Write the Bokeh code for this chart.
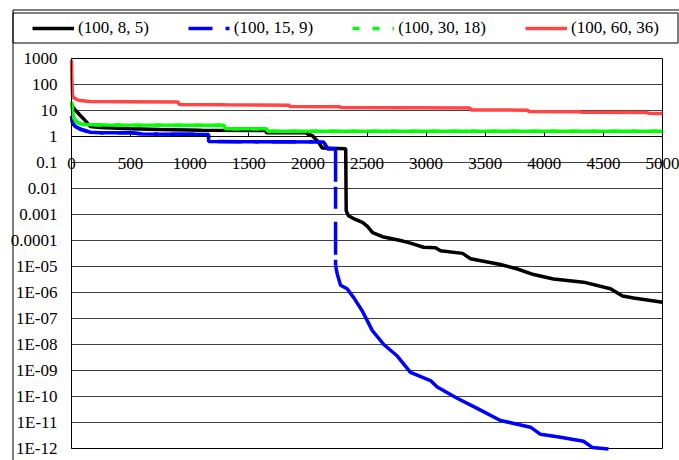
import numpy as np
from bokeh.plotting import figure
from bokeh.models import (FixedTicker, CustomJSTickFormatter, Legend, LegendItem,
                          BoxAnnotation, Range1d, Grid)
from bokeh.embed import file_html
from bokeh.resources import INLINE

# ---------------- data ----------------
series_labels = ["(100, 8, 5)", "(100, 15, 9)", "(100, 30, 18)", "(100, 60, 36)"]

black_x = [0, 10, 35, 75, 120, 160, 245, 500, 750, 1100, 1640, 1650, 1980, 2036, 2090,
           2121, 2320, 2324, 2343, 2386, 2462, 2504, 2547, 2631, 2783, 2868, 2978, 3080,
           3122, 3308, 3376, 3519, 3629, 3773, 3909, 4078, 4332, 4560, 4662, 4755, 5000]
black_y = [17, 14, 10, 6.4, 3.9, 2.4, 2.2, 2.0, 1.85, 1.75, 1.7, 1.4, 1.38, 1.09, 0.6,
           0.36, 0.34, 1.4e-3, 9e-4, 7e-4, 5e-4, 3.5e-4, 2e-4, 1.4e-4, 1e-4, 7.9e-5, 5.5e-5, 5.3e-5,
           4e-5, 3.2e-5, 2e-5, 1.5e-5, 1.2e-5, 8e-6, 4.9e-6, 3.3e-6, 2.5e-6, 1.4e-6, 7.3e-7, 6.1e-7, 4.2e-7]

blue_x = [0, 10, 30, 75, 160, 250, 500, 600, 1159, 1160, 2132, 2166, 2234, 2234, 2248, 2276,
          2332, 2386, 2459, 2544, 2642, 2756, 2868, 3037, 3094, 3263, 3432, 3629, 3883, 3968,
          4137, 4332, 4405, 4543]
blue_y = [6, 3.2, 2.5, 1.9, 1.46, 1.4, 1.38, 1.25, 1.2, 0.64, 0.62, 0.34, 0.34, 1.1e-5, 5.2e-6, 1.9e-6,
          1.4e-6, 6.5e-7, 2e-7, 3.5e-8, 1.0e-8, 3.6e-9, 8.5e-10, 4.1e-10, 2.3e-10, 8.6e-11, 3.5e-11,
          1.2e-11, 6.6e-12, 3.5e-12, 2.7e-12, 1.9e-12, 1.1e-12, 9.6e-13]

green_x = [0, 8, 20, 45, 100, 300, 1290, 1300, 1650, 1660, 5000]
green_y = [22, 10, 5, 3.5, 2.9, 2.75, 2.7, 2.0, 1.97, 1.6, 1.6]

red_x = [0, 3, 8, 20, 60, 150, 500, 900, 915, 1300, 1840, 1850, 2270, 2280, 3370, 3380,
         3860, 3870, 4300, 4310, 4870, 4880, 5000]
red_y = [900, 150, 40, 30, 25, 22, 21.5, 21, 17, 16.5, 16, 14.2, 14, 13, 12.5, 10.5,
         10.3, 9.1, 9.0, 8.5, 8.3, 7.8, 7.7]

x_ticks = [0, 500, 1000, 1500, 2000, 2500, 3000, 3500, 4000, 4500, 5000]
y_tick_exps = list(range(-12, 4))
y_tick_labels = ["1E-12", "1E-11", "1E-10", "1E-09", "1E-08", "1E-07", "1E-06", "1E-05",
                 "0.0001", "0.001", "0.01", "0.1", "1", "10", "100", "1000"]

# ---------------- layout / style ----------------
W, H = 679, 460
PA_LEFT, PA_RIGHT, PA_TOP, PA_BOTTOM = 71, 662, 58, 448   # plot area in pixels
x_min, x_max = x_ticks[0], x_ticks[-1]
e_min, e_max = y_tick_exps[0], y_tick_exps[-1]
upx = (x_max - x_min) / (PA_RIGHT - PA_LEFT)
dpx = (e_max - e_min) / (PA_BOTTOM - PA_TOP)
x_lo = x_min - PA_LEFT * upx
x_hi = x_max + (W - PA_RIGHT) * upx
y_hi = 10.0 ** (e_max + PA_TOP * dpx)
y_lo = 10.0 ** (e_min - (H - PA_BOTTOM) * dpx)

colors = ["#000000", "#0000ff", "#00ff00", "#ff4646"]
blue_dash = "24 13 4 13"
drop_dash = "33 5 22 13"
green_dash = "7 13"
LW = 3.5
FONT = "Liberation Serif"
FSIZE = "17px"

p = figure(width=W, height=H, x_axis_location="above", y_axis_type="log",
           x_range=Range1d(x_lo, x_hi), y_range=Range1d(y_lo, y_hi),
           output_backend="svg", toolbar_location=None, min_border=0,
           min_border_left=0, min_border_right=0, min_border_top=0, min_border_bottom=0,
           background_fill_color="white", border_fill_color="white")
p.outline_line_color = None

# y axis at x = 0
p.yaxis.fixed_location = x_min
p.yaxis.bounds = (10.0 ** e_min, 10.0 ** e_max)
p.yaxis.ticker = FixedTicker(ticks=[10.0 ** e for e in y_tick_exps])
p.yaxis.formatter = CustomJSTickFormatter(args=dict(exps=y_tick_exps, labels=y_tick_labels), code="""
const e = Math.round(Math.log10(tick));
const i = exps.indexOf(e);
return i >= 0 ? labels[i] : "";
""")
p.yaxis.major_tick_out = 0
p.yaxis.major_tick_in = 0
p.yaxis.minor_tick_out = 0
p.yaxis.minor_tick_in = 0
p.yaxis.axis_line_color = "black"
p.yaxis.major_label_text_font = FONT
p.yaxis.major_label_text_font_size = FSIZE
p.yaxis.major_label_text_color = "black"
p.yaxis.major_label_standoff = 14

# x axis crossing at y = 1
p.xaxis.ticker = FixedTicker(ticks=x_ticks)
p.xaxis.fixed_location = 1
p.xaxis.bounds = (x_min, x_max)
p.xaxis.major_tick_out = 4
p.xaxis.major_tick_in = 0
p.xaxis.minor_tick_out = 0
p.xaxis.minor_tick_in = 0
p.xaxis.axis_line_color = "black"
p.xaxis.major_tick_line_color = "black"
p.xaxis.major_label_text_font = FONT
p.xaxis.major_label_text_font_size = FSIZE
p.xaxis.major_label_text_color = "black"
p.xaxis.major_label_standoff = -36

p.xgrid.visible = False
p.ygrid.grid_line_color = "#404040"
p.ygrid.grid_line_width = 1
if "cross_bounds" in Grid.properties():
    p.ygrid.cross_bounds = (x_min, x_max)
else:
    p.ygrid.visible = False
    gy = [10.0 ** e for e in y_tick_exps]
    p.segment(x0=[x_min] * len(gy), x1=[x_max] * len(gy), y0=gy, y1=gy,
              line_color="#404040", line_width=1)

# plot-area border
p.add_layout(BoxAnnotation(left=x_min, right=x_max, bottom=10.0 ** e_min, top=10.0 ** e_max,
                           fill_alpha=0, line_color="black", line_width=1, line_alpha=1,
                           level="underlay"))

# data lines
r_black = p.line(black_x, black_y, line_color=colors[0], line_width=LW)

# blue: legend swatch style (dashed) hidden under the solid first part,
# dashed vertical drop, solid tail
bly = np.log10(np.array(blue_y))
k = int(np.argmax(np.abs(np.diff(bly))))
r_blue = p.line(blue_x[:k + 1], blue_y[:k + 1], line_color=colors[1], line_width=LW,
                line_dash=blue_dash)
p.line(blue_x[:k + 1], blue_y[:k + 1], line_color=colors[1], line_width=LW)
p.line(blue_x[k:k + 2], blue_y[k:k + 2], line_color=colors[1], line_width=LW, line_dash=drop_dash)
p.line(blue_x[k + 1:], blue_y[k + 1:], line_color=colors[1], line_width=LW)

# green: dashed series underneath (legend swatch), solid on top
r_green = p.line(green_x, green_y, line_color=colors[2], line_width=LW, line_dash=green_dash)
p.line(green_x, green_y, line_color=colors[2], line_width=LW)

r_red = p.line(red_x, red_y, line_color=colors[3], line_width=LW)

items = [LegendItem(label=lab, renderers=[r])
         for lab, r in zip(series_labels, [r_black, r_blue, r_green, r_red])]

legend = Legend(items=items, orientation="horizontal", location=(32, H - 37.5),
                padding=0, margin=0, spacing=39, glyph_width=42, glyph_height=20,
                label_height=20, label_standoff=4, border_line_alpha=0,
                background_fill_alpha=0, label_text_font=FONT,
                label_text_font_size=FSIZE, label_text_color="black")
p.add_layout(legend, "center")

# chart border and legend box
box_kw = dict(left_units="canvas", right_units="canvas", top_units="canvas",
              bottom_units="canvas", fill_alpha=0, line_color="black", line_width=1,
              line_alpha=1)
p.add_layout(BoxAnnotation(left=12.5, right=W + 20, top=9.5, bottom=H + 20, **box_kw))
p.add_layout(BoxAnnotation(left=12.5, right=677.5, top=12.5, bottom=42.5, **box_kw))

open("out.html", "w").write(file_html(p, INLINE))
